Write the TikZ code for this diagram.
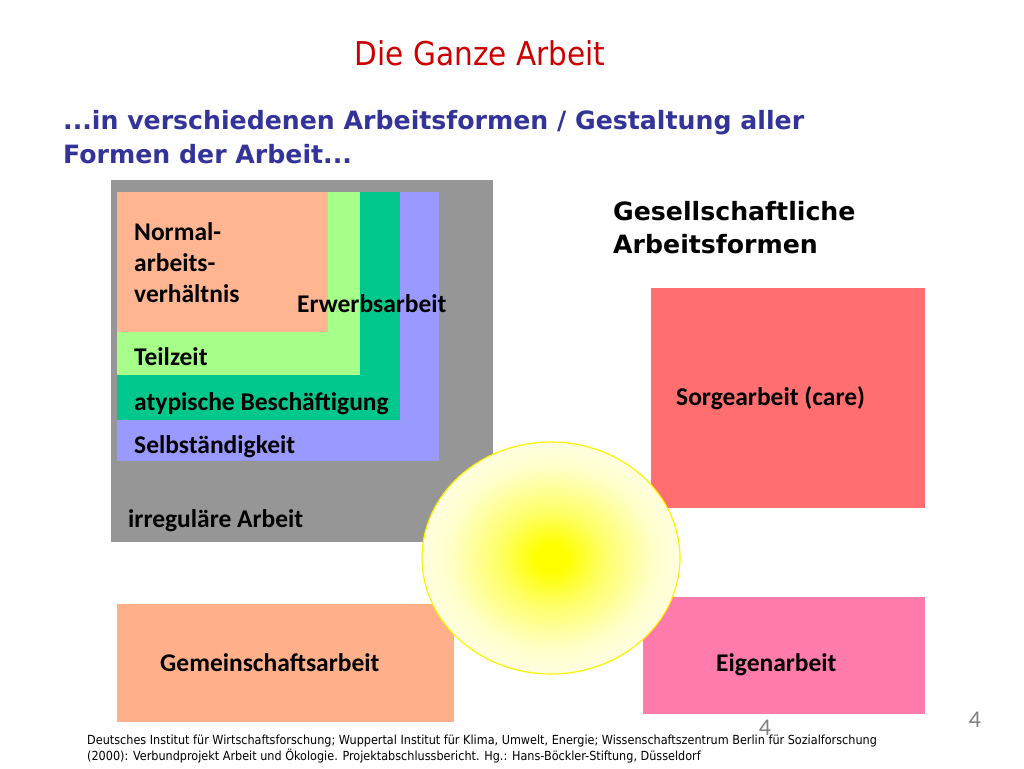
\documentclass[tikz,border=0pt]{standalone}
\usepackage{fontspec}
\setmainfont{Carlito}
\newfontfamily\tahoma{DejaVu Sans Condensed}
\newfontfamily\tahomab{DejaVu Sans}
\usetikzlibrary{shapes.geometric}
\definecolor{cgray}{RGB}{150,150,150}
\definecolor{csalmon}{RGB}{255,181,145}
\definecolor{clgreen}{RGB}{166,255,136}
\definecolor{cdgreen}{RGB}{0,199,140}
\definecolor{cblue}{RGB}{153,153,255}
\definecolor{cred}{RGB}{255,111,111}
\definecolor{cpink}{RGB}{255,123,172}
\definecolor{cgem}{RGB}{255,176,138}
\definecolor{ctitle}{RGB}{204,0,0}
\definecolor{csub}{RGB}{51,51,153}
\pgfdeclareradialshading{sun}{\pgfpoint{0bp}{0bp}}{color(0bp)=(yellow); color(3bp)=(yellow); color(10bp)=(yellow!60!white); color(20bp)=(yellow!20!white); color(30bp)=(yellow!4!white); color(36bp)=(white); color(50bp)=(white)}
\tikzset{
  area/.style={draw=none, inner sep=0pt, outer sep=0pt},
  lbl/.style={anchor=base west, inner sep=0pt, font=\fontsize{25.5}{31}\selectfont\bfseries, text=black},
}
\begin{document}
\begin{tikzpicture}[x=1pt,y=-1pt]
\useasboundingbox (0,0) rectangle (1024,768);
% nested rectangles
\fill[cgray] (111,180) rectangle (493,542);
\fill[cblue] (117,192) rectangle (439,461);
\fill[cdgreen] (117,192) rectangle (400,420);
\fill[clgreen] (117,192) rectangle (360,375);
\fill[csalmon] (117,192) rectangle (328,332);
\node[lbl, align=left] (normal) at (134,302) {Normal-\\arbeits-\\verhältnis};
\node[lbl] (erwerb) at (297,312) {Erwerbsarbeit};
\node[lbl] (teil) at (134,365) {Teilzeit};
\node[lbl] (atyp) at (134,410) {atypische Beschäftigung};
\node[lbl] (selb) at (134,453) {Selbständigkeit};
\node[lbl] (irr) at (128,527) {irreguläre Arbeit};
% right boxes
\fill[cred] (651,288) rectangle (925,508);
\node[lbl] (sorge) at (676,405) {Sorgearbeit (care)};
\fill[cgem] (117,604) rectangle (454,722);
\node[lbl] (gem) at (160,671) {Gemeinschaftsarbeit};
\fill[cpink] (643,597) rectangle (925,714);
\node[lbl] (eigen) at (716,671) {Eigenarbeit};
% sun ellipse
\node[ellipse, draw=yellow, line width=1.2pt, shading=sun, minimum width=258pt, minimum height=232pt, inner sep=0pt] (sun) at (551,558) {};
% titles
\node[anchor=base, inner sep=0pt, text=ctitle, font=\tahoma\fontsize{32.8}{36}\selectfont] (title) at (480,65) {Die Ganze Arbeit};
\node[anchor=base west, inner sep=0pt, align=left, text=csub, font=\tahomab\fontsize{25.2}{34}\selectfont\bfseries] (sub) at (63,163) {...in verschiedenen Arbeitsformen / Gestaltung aller\\Formen der Arbeit...};
\node[anchor=base west, inner sep=0pt, align=left, text=black, font=\tahomab\fontsize{25.2}{33}\selectfont\bfseries] (ges) at (613,253) {Gesellschaftliche\\Arbeitsformen};
% page numbers
\node[anchor=base, inner sep=0pt, text=gray, font=\fontsize{24}{24}\selectfont] (p1) at (765,735) {4};
\node[anchor=base, inner sep=0pt, text=gray, font=\fontsize{24}{24}\selectfont] (p2) at (975,727) {4};
% footer
\node[anchor=base west, inner sep=0pt, align=left, text=black, font=\tahoma\fontsize{12.5}{16}\selectfont] (foot) at (87,760) {Deutsches Institut für Wirtschaftsforschung; Wuppertal Institut für Klima, Umwelt, Energie; Wissenschaftszentrum Berlin für Sozialforschung\\(2000): Verbundprojekt Arbeit und Ökologie. Projektabschlussbericht. Hg.: Hans-Böckler-Stiftung, Düsseldorf};
\end{tikzpicture}
\end{document}
